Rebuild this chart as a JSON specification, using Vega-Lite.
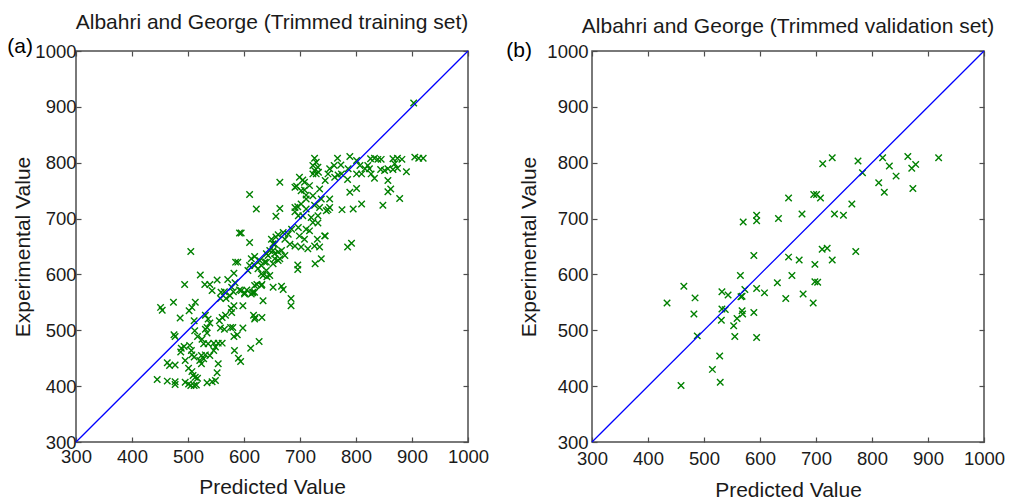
{
"$schema": "https://vega.github.io/schema/vega-lite/v6.json",
"background": "white",
"padding": {"left": 6, "top": 11, "right": 2, "bottom": 0},
"spacing": 15,
"datasets": {
"diag": [{"v": 300}, {"v": 1000}],
"train": [
{"p":505,"e":641},{"p":522,"e":599},{"p":494,"e":582},{"p":530,"e":582},{"p":539,"e":582},{"p":552,"e":590},{"p":543,"e":571},{"p":559,"e":568},{"p":565,"e":569},{"p":571,"e":591},
{"p":582,"e":602},{"p":578,"e":577},{"p":584,"e":585},{"p":558,"e":557},{"p":568,"e":557},{"p":575,"e":562},{"p":581,"e":569},{"p":595,"e":571},{"p":601,"e":565},{"p":616,"e":568},
{"p":623,"e":582},{"p":632,"e":582},{"p":652,"e":577},{"p":667,"e":579},{"p":670,"e":573},{"p":634,"e":553},{"p":684,"e":557},{"p":684,"e":544},{"p":696,"e":617},{"p":696,"e":609},
{"p":727,"e":619},{"p":451,"e":541},{"p":454,"e":536},{"p":474,"e":550},{"p":486,"e":522},{"p":502,"e":535},{"p":507,"e":541},{"p":513,"e":550},{"p":511,"e":517},{"p":531,"e":527},
{"p":536,"e":520},{"p":539,"e":513},{"p":556,"e":517},{"p":561,"e":523},{"p":567,"e":527},{"p":577,"e":539},{"p":582,"e":544},{"p":578,"e":532},{"p":598,"e":544},{"p":617,"e":527},
{"p":620,"e":523},{"p":632,"e":523},{"p":619,"e":520},{"p":558,"e":504},{"p":565,"e":502},{"p":576,"e":505},{"p":580,"e":505},{"p":598,"e":504},{"p":475,"e":492},{"p":477,"e":489},
{"p":512,"e":499},{"p":517,"e":489},{"p":534,"e":505},{"p":534,"e":495},{"p":531,"e":502},{"p":525,"e":484},{"p":528,"e":476},{"p":536,"e":476},{"p":546,"e":477},{"p":554,"e":477},
{"p":561,"e":477},{"p":582,"e":489},{"p":588,"e":492},{"p":583,"e":464},{"p":590,"e":450},{"p":594,"e":444},{"p":612,"e":468},{"p":627,"e":480},{"p":488,"e":468},{"p":493,"e":471},
{"p":487,"e":461},{"p":503,"e":473},{"p":506,"e":464},{"p":507,"e":456},{"p":511,"e":452},{"p":524,"e":455},{"p":528,"e":449},{"p":521,"e":446},{"p":524,"e":440},{"p":531,"e":456},
{"p":539,"e":455},{"p":546,"e":464},{"p":549,"e":470},{"p":554,"e":440},{"p":552,"e":424},{"p":463,"e":442},{"p":467,"e":437},{"p":477,"e":438},{"p":501,"e":432},{"p":507,"e":426},
{"p":509,"e":419},{"p":513,"e":416},{"p":517,"e":414},{"p":495,"e":446},{"p":445,"e":412},{"p":463,"e":409},{"p":477,"e":408},{"p":477,"e":403},{"p":495,"e":407},{"p":501,"e":404},
{"p":505,"e":401},{"p":511,"e":401},{"p":515,"e":402},{"p":534,"e":406},{"p":543,"e":408},{"p":549,"e":410},
{"p":726,"e":808},{"p":729,"e":801},{"p":723,"e":795},{"p":732,"e":792},{"p":726,"e":786},{"p":729,"e":780},{"p":723,"e":780},{"p":733,"e":783},{"p":767,"e":808},{"p":789,"e":811},
{"p":761,"e":795},{"p":773,"e":796},{"p":753,"e":789},{"p":750,"e":780},{"p":745,"e":768},{"p":762,"e":774},{"p":768,"e":778},{"p":774,"e":780},{"p":786,"e":789},{"p":785,"e":770},
{"p":801,"e":804},{"p":807,"e":795},{"p":801,"e":780},{"p":810,"e":780},{"p":816,"e":789},{"p":821,"e":795},{"p":826,"e":807},{"p":833,"e":808},{"p":839,"e":806},{"p":845,"e":806},
{"p":824,"e":789},{"p":827,"e":780},{"p":833,"e":772},{"p":844,"e":788},{"p":851,"e":786},{"p":857,"e":789},{"p":866,"e":807},{"p":874,"e":808},{"p":882,"e":806},{"p":869,"e":798},
{"p":874,"e":790},{"p":866,"e":788},{"p":890,"e":784},{"p":905,"e":810},{"p":912,"e":808},{"p":920,"e":808},{"p":857,"e":768},{"p":862,"e":753},{"p":857,"e":748},{"p":878,"e":736},
{"p":848,"e":724},{"p":789,"e":747},{"p":801,"e":754},{"p":810,"e":726},{"p":795,"e":717},{"p":775,"e":716},{"p":750,"e":716},{"p":753,"e":735},{"p":785,"e":649},{"p":792,"e":656},
{"p":745,"e":669},{"p":738,"e":628},{"p":664,"e":765},{"p":699,"e":774},{"p":708,"e":765},{"p":691,"e":756},{"p":702,"e":750},{"p":717,"e":759},{"p":735,"e":753},{"p":738,"e":735},
{"p":723,"e":741},{"p":711,"e":735},{"p":691,"e":720},{"p":702,"e":726},{"p":711,"e":717},{"p":726,"e":724},{"p":735,"e":720},{"p":747,"e":714},{"p":705,"e":705},{"p":697,"e":705},
{"p":720,"e":702},{"p":732,"e":705},{"p":753,"e":720},{"p":723,"e":693},{"p":732,"e":692},{"p":697,"e":684},{"p":685,"e":681},{"p":679,"e":672},{"p":670,"e":675},{"p":661,"e":671},
{"p":673,"e":663},{"p":682,"e":654},{"p":691,"e":651},{"p":699,"e":669},{"p":717,"e":678},{"p":711,"e":681},{"p":708,"e":663},{"p":702,"e":649},{"p":714,"e":646},{"p":726,"e":651},
{"p":735,"e":649},{"p":731,"e":663},{"p":744,"e":669},{"p":649,"e":663},{"p":655,"e":654},{"p":652,"e":643},{"p":661,"e":640},{"p":667,"e":643},{"p":673,"e":634},{"p":664,"e":628},
{"p":655,"e":628},{"p":643,"e":634},{"p":637,"e":622},{"p":631,"e":616},{"p":625,"e":610},{"p":619,"e":616},{"p":613,"e":628},{"p":607,"e":607},{"p":640,"e":607},{"p":646,"e":598},
{"p":634,"e":598},{"p":631,"e":601},{"p":619,"e":580},{"p":631,"e":580},{"p":619,"e":568},{"p":613,"e":565},{"p":610,"e":743},{"p":622,"e":717},{"p":610,"e":657},{"p":664,"e":718},
{"p":657,"e":704},{"p":595,"e":674},{"p":592,"e":674},{"p":619,"e":632},{"p":585,"e":622},{"p":589,"e":622},{"p":652,"e":655},{"p":657,"e":667},{"p":640,"e":637},{"p":646,"e":643},
{"p":655,"e":637},{"p":628,"e":625},{"p":610,"e":616},{"p":640,"e":622},{"p":652,"e":619},{"p":661,"e":625},{"p":592,"e":572},{"p":601,"e":567},{"p":605,"e":572},{"p":615,"e":567},
{"p":641,"e":596},{"p":694,"e":758},{"p":705,"e":769},{"p":708,"e":751},{"p":711,"e":742},{"p":696,"e":721},{"p":691,"e":712},{"p":903,"e":907}
],
"valid": [
{"p":434,"e":549},{"p":464,"e":579},{"p":459,"e":401},{"p":484,"e":558},{"p":482,"e":529},{"p":488,"e":490},{"p":528,"e":454},{"p":515,"e":430},{"p":529,"e":407},{"p":532,"e":569},
{"p":543,"e":563},{"p":532,"e":538},{"p":538,"e":537},{"p":531,"e":518},{"p":553,"e":508},{"p":555,"e":489},{"p":559,"e":521},{"p":565,"e":598},{"p":568,"e":561},{"p":573,"e":573},
{"p":566,"e":560},{"p":568,"e":535},{"p":569,"e":529},{"p":589,"e":532},{"p":594,"e":487},{"p":594,"e":575},{"p":608,"e":567},{"p":589,"e":634},{"p":570,"e":694},{"p":594,"e":706},
{"p":594,"e":696},{"p":633,"e":700},{"p":651,"e":737},{"p":675,"e":708},{"p":696,"e":743},{"p":701,"e":743},{"p":708,"e":737},{"p":712,"e":798},{"p":729,"e":809},{"p":651,"e":631},
{"p":670,"e":626},{"p":631,"e":585},{"p":657,"e":598},{"p":646,"e":557},{"p":677,"e":565},{"p":695,"e":549},{"p":698,"e":587},{"p":703,"e":586},{"p":698,"e":618},{"p":711,"e":645},
{"p":720,"e":647},{"p":729,"e":626},{"p":733,"e":708},{"p":749,"e":706},{"p":764,"e":726},{"p":771,"e":641},{"p":775,"e":803},{"p":783,"e":782},{"p":812,"e":764},{"p":819,"e":809},
{"p":822,"e":747},{"p":831,"e":794},{"p":843,"e":776},{"p":864,"e":811},{"p":871,"e":790},{"p":878,"e":797},{"p":873,"e":754},{"p":919,"e":809}
]
},
"hconcat": [
{
"width": 392, "height": 391,
"title": {"text": "Albahri and George (Trimmed training set)", "offset": 3},
"layer": [
{"data": {"name": "train"},
 "mark": {"type": "point", "shape": "M-1,-1L1,1M-1,1L1,-1", "filled": false, "stroke": "#008000", "strokeWidth": 1.4, "size": 42, "opacity": 1},
 "encoding": {
  "x": {"field": "p", "type": "quantitative", "scale": {"domain": [300, 1000], "nice": false, "zero": false}, "axis": {"orient": "bottom", "title": "Predicted Value", "format": "d", "values": [300,400,500,600,700,800,900,1000], "labelPadding": 10, "titlePadding": 11}},
  "y": {"field": "e", "type": "quantitative", "scale": {"domain": [300, 1000], "nice": false, "zero": false}, "axis": {"orient": "left", "title": "Experimental Value", "format": "d", "values": [300,400,500,600,700,800,900,1000], "labelPadding": 5, "titlePadding": 1}}
 }},
{"data": {"name": "diag"},
 "mark": {"type": "line", "color": "#0000ff", "strokeWidth": 1.3},
 "encoding": {
  "x": {"field": "v", "type": "quantitative", "scale": {"domain": [300, 1000], "nice": false, "zero": false}, "axis": {"orient": "top", "labels": false, "title": null, "minExtent": 0, "maxExtent": 0, "values": [300,400,500,600,700,800,900,1000]}},
  "y": {"field": "v", "type": "quantitative", "scale": {"domain": [300, 1000], "nice": false, "zero": false}, "axis": {"orient": "right", "labels": false, "title": null, "minExtent": 0, "maxExtent": 0, "values": [300,400,500,600,700,800,900,1000]}}
 }},
{"data": {"values": [{}]},
 "mark": {"type": "text", "text": "(a)", "fontSize": 21, "align": "right", "baseline": "middle", "dx": -43, "dy": -4, "color": "#000000"},
 "encoding": {
  "x": {"datum": 300, "type": "quantitative", "axis": null},
  "y": {"datum": 1000, "type": "quantitative", "axis": null}
 }}
],
"resolve": {"axis": {"x": "independent", "y": "independent"}}
},
{
"width": 392, "height": 391,
"title": {"text": "Albahri and George (Trimmed validation set)", "offset": 3},
"layer": [
{"data": {"name": "valid"},
 "mark": {"type": "point", "shape": "M-1,-1L1,1M-1,1L1,-1", "filled": false, "stroke": "#008000", "strokeWidth": 1.4, "size": 42, "opacity": 1},
 "encoding": {
  "x": {"field": "p", "type": "quantitative", "scale": {"domain": [300, 1000], "nice": false, "zero": false}, "axis": {"orient": "bottom", "title": "Predicted Value", "format": "d", "values": [300,400,500,600,700,800,900,1000], "labelPadding": 12.5, "titlePadding": 11}},
  "y": {"field": "e", "type": "quantitative", "scale": {"domain": [300, 1000], "nice": false, "zero": false}, "axis": {"orient": "left", "title": "Experimental Value", "format": "d", "values": [300,400,500,600,700,800,900,1000], "labelPadding": 9, "titlePadding": 7}}
 }},
{"data": {"name": "diag"},
 "mark": {"type": "line", "color": "#0000ff", "strokeWidth": 1.3},
 "encoding": {
  "x": {"field": "v", "type": "quantitative", "scale": {"domain": [300, 1000], "nice": false, "zero": false}, "axis": {"orient": "top", "labels": false, "title": null, "minExtent": 0, "maxExtent": 0, "values": [300,400,500,600,700,800,900,1000]}},
  "y": {"field": "v", "type": "quantitative", "scale": {"domain": [300, 1000], "nice": false, "zero": false}, "axis": {"orient": "right", "labels": false, "title": null, "minExtent": 0, "maxExtent": 0, "values": [300,400,500,600,700,800,900,1000]}}
 }},
{"data": {"values": [{}]},
 "mark": {"type": "text", "text": "(b)", "fontSize": 21, "align": "right", "baseline": "middle", "dx": -60, "dy": 0, "color": "#000000"},
 "encoding": {
  "x": {"datum": 300, "type": "quantitative", "axis": null},
  "y": {"datum": 1000, "type": "quantitative", "axis": null}
 }}
],
"resolve": {"axis": {"x": "independent", "y": "independent"}}
}
],
"config": {
 "font": "Liberation Sans",
 "view": {"stroke": "#4d4d4d", "strokeWidth": 1.5},
 "axis": {"grid": false, "domain": false, "tickSize": -5, "tickColor": "#4d4d4d", "tickWidth": 1.2, "labelFontSize": 18.5, "labelColor": "#1a1a1a", "labelFlush": false, "labelOverlap": false, "labelBound": false, "titleFontSize": 21, "titleFontWeight": "normal", "titleColor": "#1a1a1a", "labelFont": "Liberation Sans", "titleFont": "Liberation Sans"},
 "title": {"fontSize": 21, "fontWeight": "normal", "font": "Liberation Sans", "color": "#1a1a1a", "anchor": "middle"}
}
}
